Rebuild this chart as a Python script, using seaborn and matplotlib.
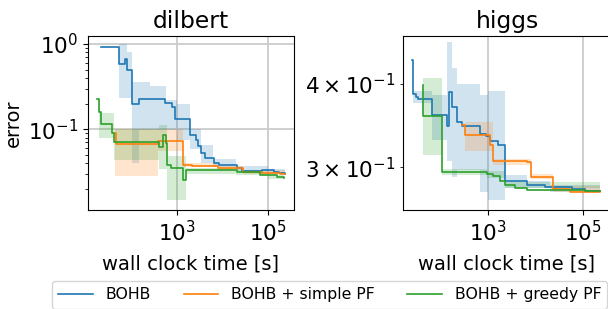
import numpy as np
import pandas as pd
import matplotlib
matplotlib.use("Agg")
import matplotlib.pyplot as plt
import matplotlib.ticker as mticker
import seaborn as sns

# ---------------- data ----------------
methods = ["BOHB", "BOHB + simple PF", "BOHB + greedy PF"]
datasets = ["dilbert", "higgs"]

# dilbert: step curves (time [s], error)
dil_bohb_t = [21, 53, 72, 78, 101, 146, 545, 760, 900, 1930, 2630, 2950, 3310, 4120, 6310, 8130, 20400, 26300, 72400, 132000, 170000, 234000]
dil_bohb_y = [0.91, 0.58, 0.66, 0.50, 0.198, 0.226, 0.205, 0.184, 0.131, 0.0857, 0.075, 0.0637, 0.0523, 0.0457, 0.0407, 0.038, 0.0349, 0.0324, 0.0332, 0.0318, 0.0305, 0.0297]
dil_bohb_bt = [53, 78, 101, 146, 250, 575, 1000, 1930, 3300, 6000, 20000, 100000, 234000]
dil_bohb_lo = [0.23, 0.23, 0.04, 0.098, 0.098, 0.098, 0.075, 0.058, 0.040, 0.036, 0.032, 0.030, 0.030]
dil_bohb_hi = [1.0, 0.81, 0.36, 0.36, 0.32, 0.22, 0.198, 0.10, 0.065, 0.045, 0.037, 0.0345, 0.0345]

dil_simple_t = [43, 46, 380, 1350, 2100, 8100, 28600, 72000, 182000, 234000]
dil_simple_y = [0.091, 0.0667, 0.073, 0.038, 0.0369, 0.0349, 0.0318, 0.0305, 0.0301, 0.0297]
dil_simple_bt = [43, 380, 1350, 8100, 28600, 234000]
dil_simple_lo = [0.028, 0.055, 0.036, 0.033, 0.030, 0.030]
dil_simple_hi = [0.100, 0.100, 0.040, 0.037, 0.033, 0.033]

dil_greedy_t = [17.7, 19.5, 21.4, 36.7, 40, 400, 490, 555, 612, 730, 1350, 1600, 20400, 66000, 156000, 220000]
dil_greedy_y = [0.225, 0.161, 0.115, 0.0898, 0.0716, 0.0625, 0.0857, 0.0685, 0.038, 0.035, 0.0255, 0.0330, 0.0318, 0.0288, 0.0275, 0.0272]
dil_greedy_bt = [19, 40, 400, 612, 1600, 20000, 100000, 220000]
dil_greedy_lo = [0.080, 0.044, 0.034, 0.015, 0.030, 0.029, 0.026, 0.026]
dil_greedy_hi = [0.155, 0.100, 0.112, 0.048, 0.035, 0.033, 0.029, 0.029]

# higgs
hig_bohb_t = [26.5, 27, 31, 34, 68, 138, 158, 177, 224, 294, 690, 920, 1120, 1670, 2300, 6600, 15800, 57000, 110000, 224000]
hig_bohb_y = [0.435, 0.386, 0.383, 0.380, 0.360, 0.346, 0.389, 0.370, 0.351, 0.346, 0.337, 0.334, 0.329, 0.324, 0.2866, 0.2828, 0.2805, 0.2788, 0.277, 0.2766]
hig_bohb_bt = [27, 68, 138, 177, 224, 690, 1000, 2300, 6600, 20000, 224000]
hig_bohb_lo = [0.375, 0.330, 0.3065, 0.290, 0.297, 0.276, 0.268, 0.279, 0.279, 0.276, 0.276]
hig_bohb_hi = [0.390, 0.385, 0.462, 0.422, 0.400, 0.385, 0.390, 0.292, 0.286, 0.282, 0.282]

hig_simple_t = [294, 335, 1120, 1270, 6600, 7900, 23600, 53000, 224000]
hig_simple_y = [0.347, 0.3355, 0.324, 0.3065, 0.3058, 0.2906, 0.2788, 0.276, 0.2766]
hig_simple_bt = [335, 1150, 1270, 6600, 7900, 23600, 224000]
hig_simple_lo = [0.318, 0.318, 0.303, 0.303, 0.288, 0.276, 0.276]
hig_simple_hi = [0.3505, 0.3505, 0.309, 0.309, 0.293, 0.281, 0.281]

hig_greedy_t = [43.5, 45, 110, 950, 1310, 1810, 2300, 3720, 6600, 110000, 224000]
hig_greedy_y = [0.399, 0.3587, 0.2954, 0.2936, 0.291, 0.2862, 0.2828, 0.2799, 0.2778, 0.277, 0.2766]
hig_greedy_bt = [45, 110, 950, 2300, 224000]
hig_greedy_lo = [0.3132, 0.292, 0.289, 0.279, 0.279]
hig_greedy_hi = [0.408, 0.298, 0.296, 0.285, 0.285]

curves = {
    "dilbert": [
        (dil_bohb_t, dil_bohb_y, dil_bohb_bt, dil_bohb_lo, dil_bohb_hi),
        (dil_simple_t, dil_simple_y, dil_simple_bt, dil_simple_lo, dil_simple_hi),
        (dil_greedy_t, dil_greedy_y, dil_greedy_bt, dil_greedy_lo, dil_greedy_hi),
    ],
    "higgs": [
        (hig_bohb_t, hig_bohb_y, hig_bohb_bt, hig_bohb_lo, hig_bohb_hi),
        (hig_simple_t, hig_simple_y, hig_simple_bt, hig_simple_lo, hig_simple_hi),
        (hig_greedy_t, hig_greedy_y, hig_greedy_bt, hig_greedy_lo, hig_greedy_hi),
    ],
}


def sci_label(v, pos=None):
    exp = int(np.floor(np.log10(v) + 1e-9))
    mant = v / 10 ** exp
    if abs(mant - 1) < 1e-6:
        return r"$\mathdefault{10^{%d}}$" % exp
    return r"$\mathdefault{%d\times10^{%d}}$" % (round(mant), exp)


# ---------------- plotting ----------------
plt.rcParams.update({"font.size": 14, "font.family": ["DejaVu Sans"]})
colors = sns.color_palette("tab10", 3)

fig = plt.figure(figsize=(6.08, 3.09), dpi=100)
ax_pos = {
    "dilbert": [88 / 608, 99 / 309, 206 / 608, 174 / 309],
    "higgs": [403 / 608, 99 / 309, 208 / 608, 174 / 309],
}
xlims = {"dilbert": (10 ** 1.04, 10 ** 5.57), "higgs": (10 ** 1.228, 10 ** 5.58)}
ylims = {"dilbert": (0.01132, 1.24), "higgs": (0.259, 0.472)}

handles = []
for ds in datasets:
    ax = fig.add_axes(ax_pos[ds])
    for (t, y, bt, lo, hi), m, c in zip(curves[ds], methods, colors):
        ax.fill_between(bt, lo, hi, step="post", color=c, alpha=0.2, linewidth=0)
        df = pd.DataFrame({"time": t, "error": y})
        sns.lineplot(data=df, x="time", y="error", ax=ax, color=c, linewidth=1.2,
                     drawstyle="steps-post", estimator=None, sort=False, label=m, legend=False)
    ax.set_xscale("log")
    ax.set_yscale("log")
    ax.set_xlim(*xlims[ds])
    ax.set_ylim(*ylims[ds])
    ax.xaxis.set_major_locator(mticker.FixedLocator([1e1, 1e3, 1e5]))
    ax.xaxis.set_minor_locator(mticker.NullLocator())
    if ds == "higgs":
        ax.yaxis.set_major_formatter(mticker.FuncFormatter(sci_label))
        ax.yaxis.set_minor_formatter(mticker.FuncFormatter(sci_label))
    ax.grid(True, which="major", color="#cccccc", linewidth=1.3)
    ax.set_axisbelow(True)
    ax.set_title(ds, fontsize=16.8)
    ax.set_xlabel("wall clock time [s]", fontsize=14, labelpad=7)
    if ds == "dilbert":
        ax.set_ylabel("error", fontsize=14)
        handles = ax.get_lines()
    else:
        ax.set_ylabel("")
    ax.tick_params(which="both", labelsize=15.5)

fig.legend(handles[:3], methods, loc="upper left", bbox_to_anchor=(52 / 608, 1 - 281 / 309),
           ncol=3, fontsize=11.3, handlelength=2.2, columnspacing=2.1, borderaxespad=0,
           frameon=True)

fig.savefig("out.png", dpi=100)
